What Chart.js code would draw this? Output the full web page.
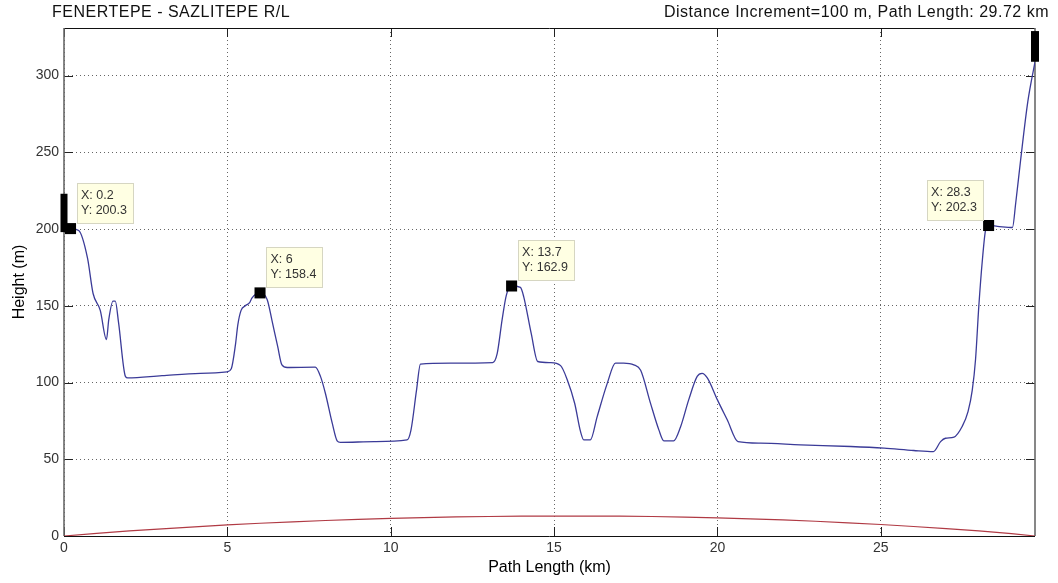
<!DOCTYPE html>
<html>
<head>
<meta charset="utf-8">
<title>FENERTEPE - SAZLITEPE R/L</title>
<script src="https://cdn.jsdelivr.net/npm/chart.js@4.4.1/dist/chart.umd.min.js"></script>
<style>
  html, body { margin: 0; padding: 0; background: #ffffff; }
  #wrap { width: 1058px; height: 583px; }
  canvas { display: block; }
</style>
</head>
<body>
<div id="wrap"><canvas id="profile" width="1058" height="583"></canvas></div>
<script>
// Terrain profile along the link (distance in km, height in m)
const distKm = [0, 0.2, 0.45, 0.72, 0.89, 1.11, 1.30, 1.37, 1.50, 1.57, 1.67, 1.88, 1.95, 3.0, 4.17, 4.99,
  5.12, 5.25, 5.32, 5.42, 5.55, 5.68, 5.75, 6.0, 6.22, 6.37, 6.54, 6.67, 6.83, 7.69, 7.85, 8.0,
  8.21, 8.36, 8.46, 9.5, 10.5, 10.62, 10.79, 10.91, 11.83, 13.12, 13.26, 13.41, 13.54, 13.7, 13.97, 14.07,
  14.3, 14.5, 14.89, 15.2, 15.4, 15.63, 15.81, 15.91, 16.11, 16.32, 16.63, 16.88, 17.13, 17.44, 17.65, 17.95,
  18.21, 18.36, 18.66, 18.87, 19.12, 19.38, 19.53, 19.69, 20.0, 20.3, 20.63, 21.32, 22.54, 24.08, 25.1, 26.01,
  26.61, 26.83, 26.98, 27.24, 27.49, 27.67, 27.8, 27.9, 28.0, 28.11, 28.21, 28.3, 28.57, 29.03, 29.13, 29.28,
  29.5, 29.72];
const heightM = [200, 200.3, 199, 181, 158, 147, 128, 141, 153, 153, 139, 104, 103, 104.5, 106, 107,
  109, 125, 137.6, 147, 150, 152, 155, 158.4, 154, 140, 123.5, 111.5, 109.8, 110, 104, 93,
  73.5, 62, 61, 61.5, 62.6, 69, 95, 112, 112.6, 113, 119, 141, 157, 162.9, 162, 156,
  132, 113.7, 113, 111, 102, 86.5, 68, 62.6, 62.6, 77.8, 99.6, 112.6, 112.6, 111.5, 108, 86.6,
  69, 62, 62, 71, 88.7, 104, 106, 103, 88.7, 75.7, 61.5, 60.5, 59.4, 58.3, 57.2, 55.7,
  55, 61.5, 63.7, 64.4, 71.3, 81, 95, 115, 149.6, 180, 199.6, 202.3, 201.8, 201, 217, 245,
  283, 309];

// Earth bulge curve
const bulgeKm = [0, 1, 2, 3, 4, 5, 6, 7, 8, 9, 10, 11, 12, 13, 14, 15, 16, 17, 18, 19, 20,
  21, 22, 23, 24, 25, 26, 27, 28, 29, 29.72];
const bulgeM = [0, 1.7, 3.3, 4.7, 6.0, 7.2, 8.3, 9.2, 10.1, 10.8, 11.5, 12.0, 12.4, 12.7, 12.9, 13.0, 13.0,
  12.9, 12.7, 12.3, 11.8, 11.2, 10.5, 9.6, 8.6, 7.5, 6.2, 4.8, 3.3, 1.6, 0];

// Antenna masts at each end of the path
const txMast = [198, 223];
const rxMast = [309, 329];
const pathEndKm = 29.72;

// Data cursor readouts
const tipKm = [0.2, 6, 13.7, 28.3];
const tipM = [200.3, 158.4, 162.9, 202.3];

// Axis ticks
const xTicks = [0, 5, 10, 15, 20, 25];
const yTicks = [0, 50, 100, 150, 200, 250, 300];

const FONT = '"Liberation Sans", Arial, Helvetica, sans-serif';

const toXY = (xs, ys) => xs.map((x, i) => ({ x: x, y: ys[i] }));

// Axes box and inward tick marks, drawn under the curves
const axesBox = {
  id: 'axesBox',
  beforeDatasetsDraw(chart) {
    const ctx = chart.ctx;
    const a = chart.chartArea;
    const xs = chart.scales.x, ys = chart.scales.y;
    ctx.save();
    ctx.strokeStyle = '#222';
    ctx.lineWidth = 1;
    const tl = 9;
    ctx.beginPath();
    xTicks.forEach(v => {
      const px = Math.round(xs.getPixelForValue(v)) + 0.5;
      ctx.moveTo(px, a.bottom); ctx.lineTo(px, a.bottom - tl);
      ctx.moveTo(px, a.top); ctx.lineTo(px, a.top + tl);
    });
    yTicks.forEach(v => {
      const py = Math.round(ys.getPixelForValue(v)) + 0.5;
      ctx.moveTo(a.left, py); ctx.lineTo(a.left + tl, py);
      ctx.moveTo(a.right, py); ctx.lineTo(a.right - tl, py);
    });
    ctx.stroke();

    ctx.strokeStyle = '#111';
    ctx.beginPath();
    ctx.moveTo(a.left, Math.round(a.bottom) + 0.5); ctx.lineTo(a.right, Math.round(a.bottom) + 0.5);
    ctx.moveTo(a.left, Math.round(a.top) + 0.5); ctx.lineTo(a.right, Math.round(a.top) + 0.5);
    ctx.stroke();
    ctx.strokeStyle = '#6a6a6a';
    ctx.lineWidth = 1.6;
    ctx.beginPath();
    ctx.moveTo(a.left, a.top); ctx.lineTo(a.left, a.bottom);
    ctx.moveTo(a.right, a.top); ctx.lineTo(a.right, a.bottom);
    ctx.stroke();
    ctx.restore();
  }
};

// Data tips, titles and axis labels
const decorations = {
  id: 'decorations',
  afterDatasetsDraw(chart) {
    const ctx = chart.ctx;
    const a = chart.chartArea;
    const xs = chart.scales.x, ys = chart.scales.y;
    ctx.save();

    ctx.font = '12.5px ' + FONT;
    ctx.textBaseline = 'middle';
    tipKm.forEach((km, i) => {
      const px = xs.getPixelForValue(km);
      const py = ys.getPixelForValue(tipM[i]);
      const l1 = 'X: ' + km, l2 = 'Y: ' + tipM[i].toFixed(1);
      const w = 56, h = 40, gap = 6;
      let bx = px + gap;
      if (bx + w > a.right) bx = px - gap - w;
      const by = py - gap - h;
      ctx.fillStyle = '#ffffe3';
      ctx.fillRect(Math.round(bx) + 0.5, Math.round(by) + 0.5, w, h);
      ctx.strokeStyle = '#d6d6c2';
      ctx.lineWidth = 1;
      ctx.strokeRect(Math.round(bx) + 0.5, Math.round(by) + 0.5, w, h);
      ctx.fillStyle = '#333';
      ctx.textAlign = 'left';
      ctx.fillText(l1, bx + 4.5, by + 13);
      ctx.fillText(l2, bx + 4.5, by + 28);
    });

    ctx.fillStyle = '#111';
    ctx.font = '16px ' + FONT;
    ctx.letterSpacing = '0.5px';
    ctx.textBaseline = 'alphabetic';
    ctx.textAlign = 'left';
    ctx.fillText('FENERTEPE - SAZLITEPE R/L', 52, 17);
    ctx.textAlign = 'right';
    ctx.fillText('Distance Increment=100 m, Path Length: 29.72 km', 1049, 17);
    ctx.letterSpacing = '0px';

    ctx.fillStyle = '#000';
    ctx.font = '16px ' + FONT;
    ctx.textAlign = 'center';
    ctx.fillText('Path Length (km)', (a.left + a.right) / 2, 572);
    ctx.translate(24, (a.top + a.bottom) / 2);
    ctx.rotate(-Math.PI / 2);
    ctx.fillText('Height (m)', 0, 0);
    ctx.restore();
  }
};

const keepTicks = list => scale => {
  scale.ticks = list.map(v => ({ value: v }));
};

new Chart(document.getElementById('profile'), {
  type: 'scatter',
  data: {
    datasets: [
      {
        label: 'Readouts',
        data: toXY(tipKm, tipM),
        pointStyle: 'rect',
        pointRadius: 7.8,
        pointBorderWidth: 0,
        backgroundColor: '#000',
        showLine: false,
        clip: false,
        order: 0
      },
      {
        label: 'Tx mast',
        data: toXY([0, 0], txMast),
        showLine: true,
        borderColor: '#000',
        borderWidth: 7,
        borderCapStyle: 'butt',
        pointRadius: 0,
        clip: false,
        order: 1
      },
      {
        label: 'Rx mast',
        data: toXY([pathEndKm, pathEndKm], rxMast),
        showLine: true,
        borderColor: '#000',
        borderWidth: 8,
        borderCapStyle: 'butt',
        pointRadius: 0,
        clip: false,
        order: 1
      },
      {
        label: 'Terrain',
        data: toXY(distKm, heightM),
        showLine: true,
        borderColor: '#3b3b98',
        borderWidth: 1.3,
        pointRadius: 0,
        cubicInterpolationMode: 'monotone',
        order: 2
      },
      {
        label: 'Earth bulge',
        data: toXY(bulgeKm, bulgeM),
        showLine: true,
        borderColor: '#b03a44',
        borderWidth: 1.2,
        pointRadius: 0,
        order: 3
      }
    ]
  },
  options: {
    responsive: false,
    animation: false,
    devicePixelRatio: 1,
    layout: { padding: { top: 28, right: 23, left: 0, bottom: 0 } },
    plugins: {
      legend: { display: false },
      tooltip: { enabled: false },
      title: { display: false }
    },
    scales: {
      x: {
        type: 'linear',
        min: 0,
        max: pathEndKm,
        afterBuildTicks: keepTicks(xTicks),
        afterFit: s => { s.height = 47; },
        ticks: {
          color: '#333',
          font: { family: FONT, size: 14 },
          padding: 4,
          maxRotation: 0,
          autoSkip: false
        },
        grid: { color: '#666', lineWidth: 1, drawTicks: false },
        border: { display: false, dash: [1, 3] }
      },
      y: {
        type: 'linear',
        min: 0,
        max: 331,
        afterBuildTicks: keepTicks(yTicks),
        afterFit: s => { s.width = 64; },
        ticks: {
          color: '#333',
          font: { family: FONT, size: 14 },
          padding: 5,
          autoSkip: false
        },
        grid: { color: '#666', lineWidth: 1, drawTicks: false },
        border: { display: false, dash: [1, 3] }
      }
    }
  },
  plugins: [axesBox, decorations]
});
</script>
</body>
</html>
